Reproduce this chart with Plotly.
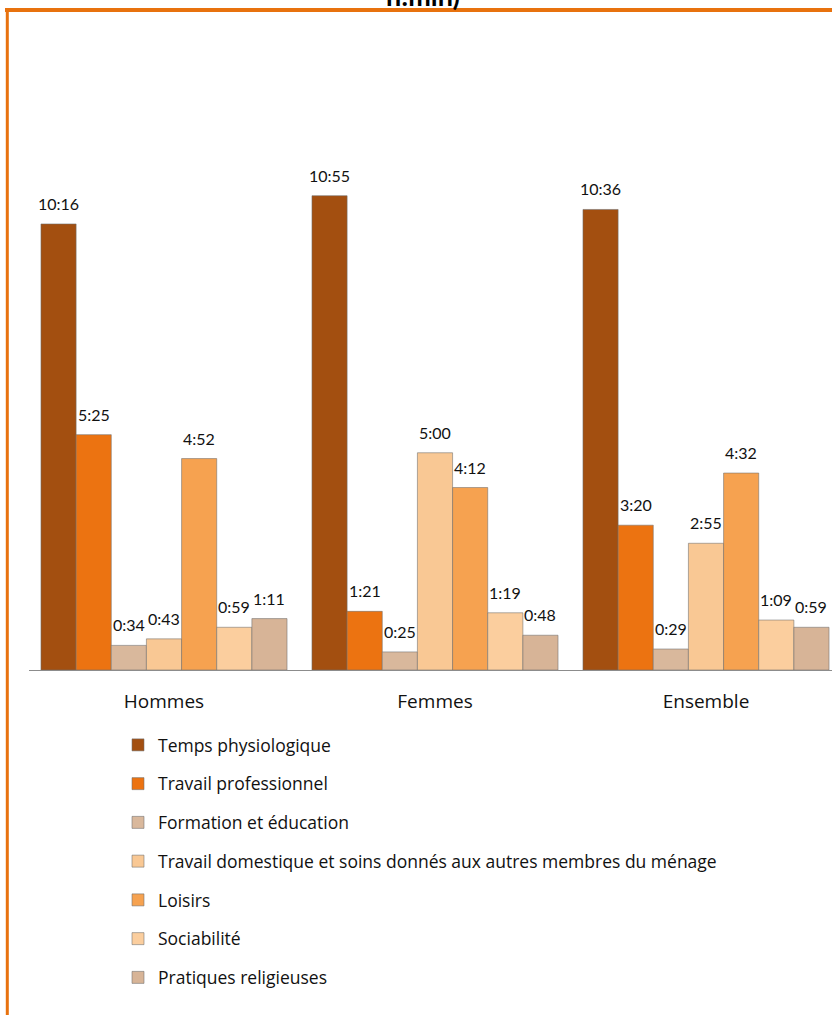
import plotly.graph_objects as go

# ---- data ----
groups = ["Hommes", "Femmes", "Ensemble"]
series = [
    "Temps physiologique",
    "Travail professionnel",
    "Formation et éducation",
    "Travail domestique et soins donnés aux autres membres du ménage",
    "Loisirs",
    "Sociabilité",
    "Pratiques religieuses",
]
temps_physio = ["10:16", "10:55", "10:36"]
travail_pro = ["5:25", "1:21", "3:20"]
formation = ["0:34", "0:25", "0:29"]
travail_dom = ["0:43", "5:00", "2:55"]
loisirs = ["4:52", "4:12", "4:32"]
sociabilite = ["0:59", "1:19", "1:09"]
religion = ["1:11", "0:48", "0:59"]
values = [temps_physio, travail_pro, formation, travail_dom, loisirs, sociabilite, religion]
colors = ["#A34F10", "#EC7311", "#D9B89C", "#F9C894", "#F6A250", "#FBCE9E", "#D7B497"]


def to_min(s):
    h, m = s.split(":")
    return int(h) * 60 + int(m)


W, H = 832, 1015
FONT = "Lato"
LFONT = "Open Sans"
bargap = 0.092
n = len(series)

fig = go.Figure()
for k, (name, vals, col) in enumerate(zip(series, values, colors)):
    fig.add_trace(go.Bar(
        x=groups, y=[to_min(v) for v in vals], name=name,
        legendgroup=f"g{k}",
        marker=dict(color=col, line=dict(color="rgba(110,110,110,0.55)", width=1)),
        hoverinfo="skip",
    ))

# value labels above bars
ann = []
w = (1 - bargap) / n
for k, vals in enumerate(values):
    for i, v in enumerate(vals):
        ann.append(dict(
            x=i - (1 - bargap) / 2 + (k + 0.5) * w, y=to_min(v), xref="x", yref="y",
            text=v, showarrow=False, yanchor="bottom", xanchor="center", yshift=9,
            font=dict(family=FONT, size=16, color="#111"),
        ))

# partially visible title
ann.append(dict(x=423 / W, y=1 - 14 / H, xref="paper", yref="paper", text="<b>h:min)</b>",
                showarrow=False, xanchor="center", yanchor="bottom",
                font=dict(family=FONT, size=27, color="#000")))

base_px = 670
top_px = 40
px_per_min = 474.3 / 655

fig.update_layout(
    width=W, height=H,
    margin=dict(l=0, r=0, t=0, b=0),
    paper_bgcolor="white", plot_bgcolor="white",
    barmode="group", bargap=bargap, bargroupgap=0,
    font=dict(family=FONT, size=16, color="#111"),
    xaxis=dict(domain=[28.5 / W, 1], range=[-0.5, -0.5 + (W - 28.5) / 271],
               showline=True, linecolor="#8c8c8c", linewidth=1, ticks="",
               ticklabelstandoff=14, tickfont=dict(family=LFONT, size=19, color="#111"),
               showgrid=False, zeroline=False, fixedrange=True),
    yaxis=dict(domain=[1 - base_px / H, 1 - top_px / H],
               range=[0, (base_px - top_px) / px_per_min], visible=False, fixedrange=True),
    showlegend=True,
    legend=dict(orientation="v", x=118 / W, y=1 - 727 / H, xanchor="left", yanchor="top",
                traceorder="grouped", tracegroupgap=13,
                font=dict(family=LFONT, size=17.5, color="#111"), bgcolor="rgba(0,0,0,0)"),
    annotations=ann,
    shapes=[
        dict(type="line", xref="paper", yref="paper", x0=5 / W, x1=1, y0=1 - 10 / H, y1=1 - 10 / H,
             line=dict(color="#E8720E", width=4)),
        dict(type="line", xref="paper", yref="paper", x0=7.3 / W, x1=7.3 / W, y0=0, y1=1 - 8 / H,
             line=dict(color="#E8720E", width=3)),
    ],
)

fig.write_html("out.html", config={"displayModeBar": False},
               post_script="document.body.style.margin='0';")
